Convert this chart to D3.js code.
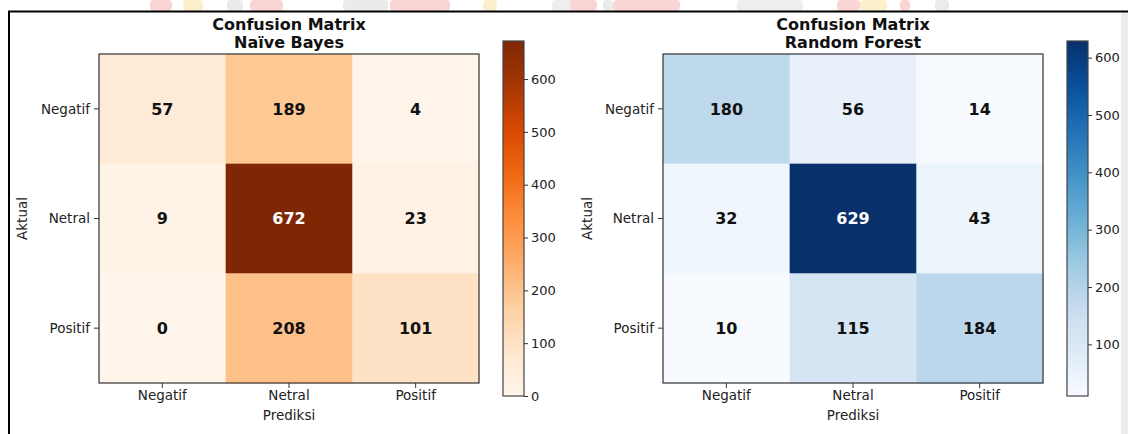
<!DOCTYPE html>
<html>
<head>
<meta charset="utf-8">
<script src="https://cdn.jsdelivr.net/npm/d3@7"></script>
<style>
  html, body { margin: 0; padding: 0; background: #fff; }
  svg { display: block; }
  text { font-family: "DejaVu Sans", sans-serif; }
</style>
</head>
<body>
<svg id="chart" width="1128" height="434"></svg>
<script>
// ---- data ----
const categories = ["Negatif", "Netral", "Positif"];
const titleLine1 = "Confusion Matrix";
const modelNames = ["Naïve Bayes", "Random Forest"];
const nbValues = [
  [57, 189, 4],
  [9, 672, 23],
  [0, 208, 101]
];
const rfValues = [
  [180, 56, 14],
  [32, 629, 43],
  [10, 115, 184]
];
const nbColorbarTicks = [0, 100, 200, 300, 400, 500, 600];
const rfColorbarTicks = [100, 200, 300, 400, 500, 600];
const xLabel = "Prediksi";
const yLabel = "Aktual";

// ---- colormaps (matplotlib linear segmented from ColorBrewer) ----
const orangesStops = ["#fff5eb", "#fee6ce", "#fdd0a2", "#fdae6b", "#fd8d3c", "#f16913", "#d94801", "#a63603", "#7f2704"];
const bluesStops = ["#f7fbff", "#deebf7", "#c6dbef", "#9ecae1", "#6baed6", "#4292c6", "#2171b5", "#08519c", "#08306b"];
function makeCmap(stops) {
  const s = d3.scaleLinear()
    .domain(stops.map((_, i) => i / (stops.length - 1)))
    .range(stops)
    .interpolate(d3.interpolateRgb)
    .clamp(true);
  return t => s(t);
}

const svg = d3.select("#chart");

// ---- background watermark strip & frame ----
const wm = svg.append("g").attr("opacity", 0.35);
const wmShapes = [
  [150, 22, "#f08a8a"], [183, 20, "#f5d66a"], [227, 16, "#c8c8c8"], [250, 33, "#f08a8a"],
  [343, 45, "#c8c8c8"], [390, 60, "#f08a8a"], [483, 14, "#f5d66a"], [552, 30, "#d0d0d0"],
  [570, 27, "#f08a8a"], [603, 10, "#c8c8c8"], [613, 67, "#f08a8a"], [737, 66, "#d0d0d0"],
  [837, 23, "#f08a8a"], [860, 27, "#f5d66a"], [900, 10, "#f08a8a"], [935, 14, "#c8c8c8"]
];
wm.selectAll("rect").data(wmShapes).join("rect")
  .attr("x", d => d[0]).attr("y", 0).attr("width", d => d[1]).attr("height", 11)
  .attr("rx", 4).attr("fill", d => d[2]);
svg.append("rect").attr("x", 1121).attr("y", 12).attr("width", 7).attr("height", 422).attr("fill", "#ececec");
svg.append("line").attr("x1", 8).attr("x2", 1128).attr("y1", 11.5).attr("y2", 11.5).attr("stroke", "#000").attr("stroke-width", 2);
svg.append("line").attr("x1", 9).attr("x2", 9).attr("y1", 11).attr("y2", 434).attr("stroke", "#000").attr("stroke-width", 2);

// ---- panel drawing ----
function drawPanel(ox, values, modelName, stops, cbTicks) {
  const g = svg.append("g").attr("transform", `translate(${ox},0)`);
  const flat = values.flat();
  const vmin = d3.min(flat), vmax = d3.max(flat);
  const cmap = makeCmap(stops);
  const norm = d3.scaleLinear().domain([vmin, vmax]).range([0, 1]);

  const left = 99, right = 479, top = 54, bottom = 383;
  const x = d3.scaleBand().domain(categories).range([left, right]).padding(0);
  const y = d3.scaleBand().domain(categories).range([top, bottom]).padding(0);

  const cells = [];
  values.forEach((row, i) => row.forEach((v, j) => cells.push({ r: categories[i], c: categories[j], v })));

  g.selectAll("rect.cell").data(cells).join("rect")
    .attr("class", "cell")
    .attr("x", d => x(d.c)).attr("y", d => y(d.r))
    .attr("width", x.bandwidth() + 0.5).attr("height", y.bandwidth() + 0.5)
    .attr("fill", d => cmap(norm(d.v)));

  const thresh = vmax / 2;
  g.selectAll("text.ann").data(cells).join("text")
    .attr("class", "ann")
    .attr("x", d => x(d.c) + x.bandwidth() / 2)
    .attr("y", d => y(d.r) + y.bandwidth() / 2)
    .attr("dy", "0.36em")
    .attr("text-anchor", "middle")
    .attr("font-size", "16px").attr("font-weight", "bold")
    .attr("fill", d => d.v > thresh ? "#fff" : "#111")
    .text(d => d.v);

  g.append("rect").attr("x", left).attr("y", top).attr("width", right - left).attr("height", bottom - top)
    .attr("fill", "none").attr("stroke", "#333").attr("stroke-width", 1.2);

  // axes
  const xAxis = g.append("g").attr("transform", `translate(0,${bottom})`)
    .call(d3.axisBottom(x).tickSize(5).tickPadding(2));
  const yAxis = g.append("g").attr("transform", `translate(${left},0)`)
    .call(d3.axisLeft(y).tickSize(5).tickPadding(4));
  [xAxis, yAxis].forEach(a => {
    a.select(".domain").remove();
    a.selectAll("text").attr("font-size", "13.5px").attr("fill", "#222").style("font-family", "DejaVu Sans");
    a.selectAll("line").attr("stroke", "#333");
  });
  xAxis.selectAll("text").attr("dy", "0.71em");
  yAxis.selectAll("text").attr("dy", "0.36em");

  g.append("text").attr("x", (left + right) / 2).attr("y", 420).attr("text-anchor", "middle")
    .attr("font-size", "13.5px").attr("fill", "#222").text(xLabel);
  g.append("text").attr("transform", `translate(${ox === 0 ? 27 : 28},${(top + bottom) / 2}) rotate(-90)`)
    .attr("text-anchor", "middle").attr("font-size", "13.5px").attr("fill", "#222").text(yLabel);

  // titles
  g.append("text").attr("x", (left + right) / 2).attr("y", 30).attr("text-anchor", "middle")
    .attr("font-size", "16px").attr("font-weight", "bold").attr("fill", "#111").text(titleLine1);
  g.append("text").attr("x", (left + right) / 2).attr("y", 48).attr("text-anchor", "middle")
    .attr("font-size", "16px").attr("font-weight", "bold").attr("fill", "#111").text(modelName);

  // colorbar
  const cbL = 503, cbW = 21, cbTop = 41, cbBot = 396;
  const cbScale = d3.scaleLinear().domain([vmin, vmax]).range([cbBot, cbTop]);
  const gradId = "grad" + ox;
  const grad = svg.append("defs").append("linearGradient").attr("id", gradId)
    .attr("x1", 0).attr("y1", 1).attr("x2", 0).attr("y2", 0);
  d3.range(0, 1.0001, 0.05).forEach(t => {
    grad.append("stop").attr("offset", t).attr("stop-color", cmap(t));
  });
  g.append("rect").attr("x", cbL).attr("y", cbTop).attr("width", cbW).attr("height", cbBot - cbTop)
    .attr("fill", `url(#${gradId})`).attr("stroke", "#444").attr("stroke-width", 1.2);
  const cbAxis = g.append("g").attr("transform", `translate(${cbL + cbW},0)`)
    .call(d3.axisRight(cbScale).tickValues(cbTicks).tickSize(4).tickPadding(3));
  cbAxis.select(".domain").remove();
  cbAxis.selectAll("text").attr("font-size", "13px").attr("fill", "#222").style("font-family", "DejaVu Sans");
  cbAxis.selectAll("line").attr("stroke", "#333");
}

drawPanel(0, nbValues, modelNames[0], orangesStops, nbColorbarTicks);
drawPanel(564, rfValues, modelNames[1], bluesStops, rfColorbarTicks);
</script>
</body>
</html>
